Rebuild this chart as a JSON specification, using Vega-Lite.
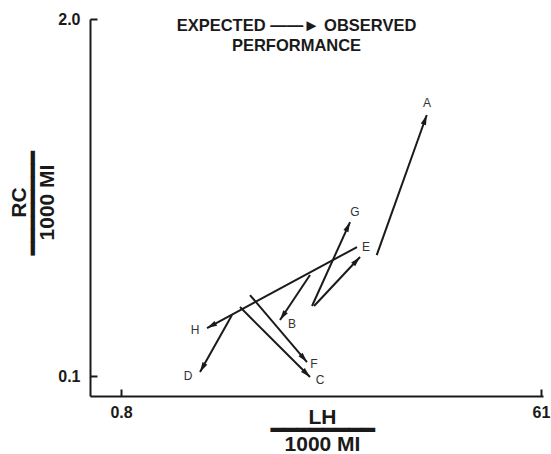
{
  "$schema": "https://vega.github.io/schema/vega-lite/v6.json",
  "width": 453,
  "height": 377,
  "autosize": {"type": "none"},
  "padding": {"left": 90, "top": 19, "right": 8, "bottom": 58},
  "background": "white",
  "config": {
    "view": {"stroke": null},
    "axis": {
      "grid": false,
      "domainColor": "#1a1a1a",
      "domainWidth": 2,
      "ticks": true,
      "tickColor": "#1a1a1a",
      "tickWidth": 2,
      "tickSize": -7,
      "labelFont": "Liberation Sans",
      "labelFontWeight": "bold",
      "labelFontSize": 16,
      "labelColor": "#1a1a1a",
      "titleFont": "Liberation Sans",
      "titleFontWeight": "bold",
      "titleFontSize": 21,
      "titleColor": "#1a1a1a"
    }
  },
  "title": {
    "text": ["EXPECTED ——► OBSERVED", "PERFORMANCE"],
    "font": "Liberation Sans",
    "fontSize": 16.5,
    "fontWeight": "bold",
    "color": "#1a1a1a",
    "anchor": "middle",
    "frame": "group",
    "orient": "top",
    "baseline": "top",
    "offset": 0,
    "dx": -20,
    "dy": 43,
    "lineHeight": 20
  },
  "data": {
    "values": [
      {"id": "A", "x1": 11.2, "y1": 0.276, "x2": 18.77, "y2": 0.894, "lx": 18.83, "ly": 0.988},
      {"id": "G", "x1": 5.744, "y1": 0.18, "x2": 8.504, "y2": 0.364, "lx": 8.95, "ly": 0.396},
      {"id": "E", "x1": 5.865, "y1": 0.18, "x2": 9.428, "y2": 0.2715, "lx": 10.03, "ly": 0.2952},
      {"id": "B", "x1": 5.626, "y1": 0.2334, "x2": 4.128, "y2": 0.16, "lx": 4.673, "ly": 0.1547},
      {"id": "H", "x1": 9.14, "y1": 0.2952, "x2": 1.944, "y2": 0.1496, "lx": 1.717, "ly": 0.1471},
      {"id": "F", "x1": 3.029, "y1": 0.1973, "x2": 5.455, "y2": 0.1125, "lx": 5.865, "ly": 0.1106},
      {"id": "C", "x1": 2.732, "y1": 0.1784, "x2": 5.626, "y2": 0.0992, "lx": 6.238, "ly": 0.0967},
      {"id": "D", "x1": 2.515, "y1": 0.1668, "x2": 1.808, "y2": 0.1034, "lx": 1.597, "ly": 0.1}
    ]
  },
  "transform": [
    {"calculate": "atan2(log(datum.x2 / datum.x1) * 223.1, log(datum.y2 / datum.y1) * 274.4) * 180 / PI", "as": "ang"}
  ],
  "layer": [
    {
      "mark": {"type": "rule", "strokeWidth": 2, "color": "#1a1a1a"},
      "encoding": {
        "x": {
          "field": "x1", "type": "quantitative",
          "scale": {"type": "log", "domain": [0.5809, 62.3], "nice": false},
          "axis": {
            "values": [0.8, 61], "format": "~g", "labelPadding": 15,
            "ticks": true, "tickSize": -7, "tickWidth": 2, "tickColor": "#1a1a1a",
            "labelFontWeight": "bold", "labelFontSize": 16, "labelFont": "Liberation Sans",
            "title": ["LH", "━━━━━━━━", "1000 MI"],
            "titleLineHeight": 13.8, "titleBaseline": "top", "titleAlign": "center",
            "titleX": 232, "titleY": 10
          }
        },
        "y": {
          "field": "y1", "type": "quantitative",
          "scale": {"type": "log", "domain": [0.0846, 2.0], "nice": false},
          "axis": {
            "values": [0.1, 2.0], "format": ".1f", "labelPadding": 17,
            "ticks": true, "tickSize": -7, "tickWidth": 2, "tickColor": "#1a1a1a",
            "labelFontWeight": "bold", "labelFontSize": 16, "labelFont": "Liberation Sans",
            "title": ["RC", "━━━━━━━━", "1000 MI"],
            "titleLineHeight": 14.1, "titleBaseline": "top", "titleAlign": "center",
            "titleAngle": -90, "titleX": -82, "titleY": 183
          }
        },
        "x2": {"field": "x2"},
        "y2": {"field": "y2"}
      }
    },
    {
      "mark": {"type": "point", "filled": true, "opacity": 1, "color": "#1a1a1a", "size": 100,
               "shape": "M0,0L-0.55,2L0.55,2Z"},
      "encoding": {
        "x": {"field": "x2", "type": "quantitative", "scale": {"type": "log", "domain": [0.5809, 62.3], "nice": false}},
        "y": {"field": "y2", "type": "quantitative", "scale": {"type": "log", "domain": [0.0846, 2.0], "nice": false}},
        "angle": {"field": "ang", "type": "quantitative", "scale": null}
      }
    },
    {
      "mark": {"type": "text", "font": "Liberation Sans", "fontSize": 12, "color": "#333333", "align": "center", "baseline": "middle"},
      "encoding": {
        "x": {"field": "lx", "type": "quantitative", "scale": {"type": "log", "domain": [0.5809, 62.3], "nice": false}},
        "y": {"field": "ly", "type": "quantitative", "scale": {"type": "log", "domain": [0.0846, 2.0], "nice": false}},
        "text": {"field": "id"}
      }
    }
  ]
}
